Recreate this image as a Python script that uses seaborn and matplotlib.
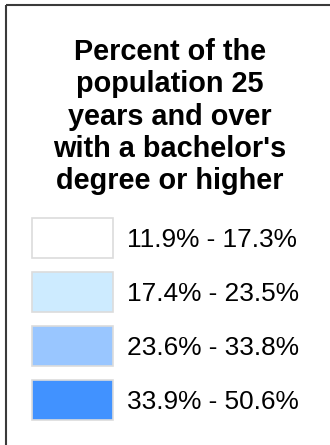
import matplotlib

matplotlib.use("Agg")

import matplotlib.pyplot as plt
import seaborn as sns

TITLE_LINES = [
    "Percent of the",
    "population 25",
    "years and over",
    "with a bachelor's",
    "degree or higher",
]
RANGE_LABELS = ["11.9% - 17.3%", "17.4% - 23.5%", "23.6% - 33.8%", "33.9% - 50.6%"]
RANGE_COLORS = ["#ffffff", "#cdebff", "#99c6ff", "#4192ff"]

W, H = 330, 445

sns.set_theme(style="white")
plt.rcParams["font.family"] = ["Liberation Sans", "DejaVu Sans"]

fig = plt.figure(figsize=(W / 100, H / 100), dpi=100)
ax = fig.add_axes([0, 0, 1, 1])
ax.set_xlim(0, W)
ax.set_ylim(H, 0)
ax.axis("off")

# frame: only top and left edges are visible
ax.plot([5.5, W + 5], [4.5, 4.5], color="#3a3a3a", lw=1.5, solid_capstyle="butt")
ax.plot([5.5, 5.5], [4.5, H + 5], color="#3a3a3a", lw=1.5, solid_capstyle="butt")

for i, line in enumerate(TITLE_LINES):
    ax.text(170, 60 + i * 32.3, line, ha="center", va="baseline",
            fontsize=20.8, fontweight="bold", color="#000000")

centers = [238 + i * 54 for i in range(len(RANGE_LABELS))]
ax.barh(centers, width=81, left=32, height=40, color=RANGE_COLORS,
        edgecolor="#dcdcdc", linewidth=1.2)
for y, label in zip(centers, RANGE_LABELS):
    ax.text(127, y + 9, label, ha="left", va="baseline", fontsize=18.9, color="#000000")

fig.savefig("out.png", dpi=100)
